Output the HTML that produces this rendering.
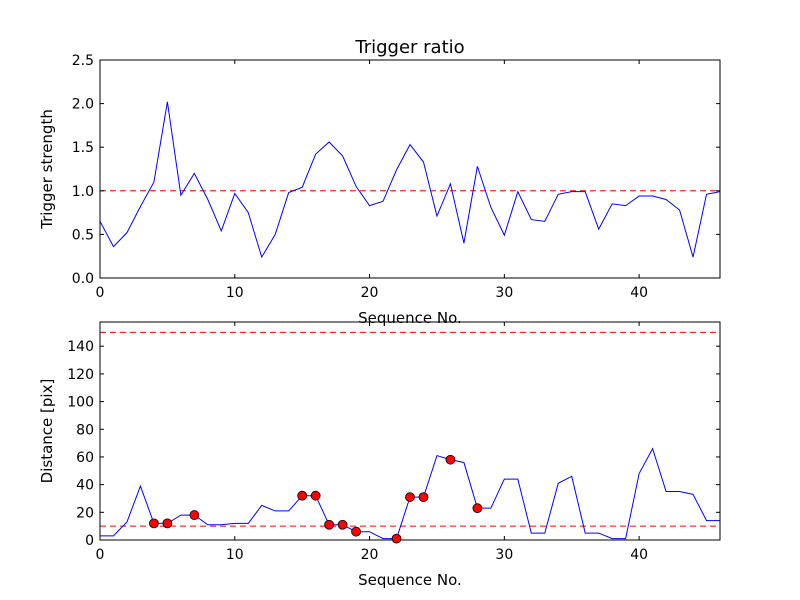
<!DOCTYPE html>
<html><head><meta charset="utf-8"><style>
body{margin:0;background:#fff}
svg{font-family:"DejaVu Sans","Liberation Sans",sans-serif;display:block}
</style></head><body>
<svg id="c" width="800" height="600"></svg>
<script>
const seq=[...Array(47).keys()];
const ratio=[0.65,0.36,0.52,0.82,1.10,2.02,0.95,1.20,0.90,0.54,0.97,0.75,0.24,0.50,0.98,1.04,1.42,1.56,1.40,1.05,0.83,0.88,1.24,1.53,1.33,0.71,1.08,0.40,1.28,0.81,0.49,0.99,0.67,0.65,0.96,0.99,0.99,0.56,0.85,0.83,0.94,0.94,0.90,0.78,0.24,0.96,0.99];
const dist=[3,3,13,39,12,12,18,18,11,11,12,12,25,21,21,32,32,11,11,6,6,1,1,31,31,61,58,56,23,23,44,44,5,5,41,46,5,5,1,1,48,66,35,35,33,14,14];
const flagged=[4,5,7,15,16,17,18,19,22,23,24,26,28];
const topTicks=[0,0.5,1.0,1.5,2.0,2.5];
const botTicks=[0,20,40,60,80,100,120,140];
const xTicks=[0,10,20,30,40];
const ratioThresh=1.0, distThresh=[10,150];

const NS="http://www.w3.org/2000/svg", svg=document.getElementById('c');
function el(t,a,p){const e=document.createElementNS(NS,t);for(const k in a)e.setAttribute(k,a[k]);(p||svg).appendChild(e);return e;}
const L=100,R=720;
const sx=v=>L+(v/46)*(R-L);
function panel(top,bot,ymax,ticks,fmt,vals,thr,ylab,name){
  const sy=v=>bot-(v/ymax)*(bot-top);
  const g=el('g',{});
  
  
  thr.forEach(t=>{const l=el('line',{x1:L,x2:R,y1:sy(t),y2:sy(t),stroke:'#f00','stroke-width':1,'stroke-dasharray':'6,4'},g);
    });
  const p=el('polyline',{points:vals.map((v,i)=>sx(seq[i])+','+sy(v)).join(' '),fill:'none',stroke:'#00f','stroke-width':1},g);
  
  const fr=el('rect',{x:L,y:top,width:R-L,height:bot-top,fill:'none',stroke:'#000','stroke-width':1},g);
  
  ticks.forEach(t=>{const y=sy(t);
    el('line',{x1:L,x2:L+4,y1:y,y2:y,stroke:'#000'},g);el('line',{x1:R,x2:R-4,y1:y,y2:y,stroke:'#000'},g);
    const tx=el('text',{x:L-6,y:y+5,'text-anchor':'end','font-size':14},g);tx.textContent=fmt(t);
    });
  xTicks.forEach(t=>{const x=sx(t);
    el('line',{x1:x,x2:x,y1:bot,y2:bot-4,stroke:'#000'},g);el('line',{x1:x,x2:x,y1:top,y2:top+4,stroke:'#000'},g);
    const tx=el('text',{x:x,y:bot+19,'text-anchor':'middle','font-size':14},g);tx.textContent=t;
    });
  const xl=el('text',{x:410,y:bot+45,'text-anchor':'middle','font-size':15},g);xl.textContent='Sequence No.';
  
  const cy=(top+bot)/2;
  const yl=el('text',{x:0,y:0,'text-anchor':'middle','font-size':15,transform:`translate(${L-48},${cy}) rotate(-90)`},g);yl.textContent=ylab;
  
  return sy;
}
panel(60,278,2.5,topTicks,v=>v.toFixed(1),ratio,[ratioThresh],'Trigger strength','trigger-panel');
const sy2=panel(322,540,157.5,botTicks,v=>String(v),dist,distThresh,'Distance [pix]','distance-panel');
flagged.forEach(i=>{const c=el('circle',{cx:sx(seq[i]),cy:sy2(dist[i]),r:4.5,fill:'#f00',stroke:'#000','stroke-width':0.8});
  });
const t=el('text',{x:410,y:53,'text-anchor':'middle','font-size':18});t.textContent='Trigger ratio';

</script>
</body></html>
